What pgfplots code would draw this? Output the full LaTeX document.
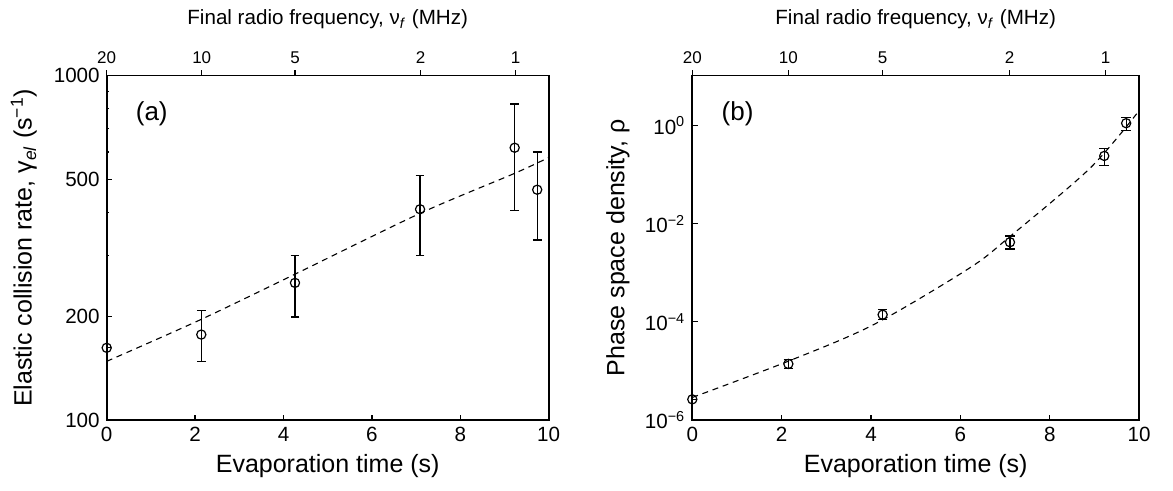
\documentclass[border=0pt]{standalone}
\usepackage{fontspec}
\setmainfont{Liberation Sans}
\usepackage{pgfplots}
\usepackage{pgfplotstable}
\pgfplotsset{compat=1.18}

\pgfplotstableread{
x y ep em
0 162 0 0
2.14 177 31 29.4
4.26 250 51 51
7.09 409 103 108
9.23 617 210 212
9.74 466 134 133
}\dataA

\pgfplotstableread{
x y ep em
0 2.64e-6 0 0
2.15 1.39e-5 0.34e-5 0.28e-5
4.26 1.40e-4 0.41e-4 0.27e-4
7.11 4.2e-3 1.4e-3 1.14e-3
9.22 0.241 0.105 0.088
9.71 1.12 0.36 0.33
}\dataB

\pgfplotsset{
  base/.style={
    scale only axis, height=172.25pt,
    xmin=0, xmax=10,
    axis line style={line width=0.95pt, black},
    tick style={line width=0.6pt, black},
    major tick length=2.6pt, minor tick length=1.4pt,
    ticklabel style={font=\fontsize{10.3}{12}\selectfont, black},
    label style={font=\fontsize{12.5}{15}\selectfont, black},
  },
  main/.style={
    base,
    xtick={0,2,4,6,8,10}, xticklabels={0,2,4,6,8,10},
    tick align=inside, xtick pos=bottom, ytick pos=left,
    xlabel={Evaporation time (s)},
    xlabel style={at={(axis description cs:0.5,-0.153)}, anchor=base},
  },
  top/.style={
    base,
    axis x line*=top, axis y line=none, ymin=0, ymax=1,
    tick align=outside,
    xtick={0,2.15,4.26,7.1,9.25}, xticklabels={20,10,5,2,1},
    ticklabel style={font=\fontsize{8.5}{10}\selectfont},
    xlabel={Final radio frequency, ν\textsubscript{\textit{f}} (MHz)},
    xlabel style={font=\fontsize{10.3}{12}\selectfont, at={(axis description cs:0.5,1.147)}, anchor=base},
  },
  pts/.style={black, line width=0.6pt, mark=o, mark size=2.3pt,
    mark options={fill=white, solid, line width=0.6pt},
    only marks,
    error bars/.cd, y dir=both, y explicit,
    error bar style={line width=0.6pt, black},
    error mark options={rotate=90, mark size=#1, line width=0.6pt, black}},
  pts/.default=2.2pt,
  fit/.style={black, line width=0.55pt, dash pattern=on 3pt off 2.4pt, no marks, smooth},
}

\begin{document}
\begin{tikzpicture}
\path[use as bounding box] (0,0) rectangle (586.5pt,-245.5pt);

% ---------- panel (a)
\begin{axis}[main, at={(53.35pt,-210pt)}, anchor=south west, width=221pt,
  ymode=log, ymin=100, ymax=1000,
  ytick={100,200,500,1000}, yticklabels={100,200,500,1000},
  yminorticks=true, minor ytick={300,400,600,700,800,900},
  ylabel={Elastic collision rate, γ\textsubscript{\textit{el}} (s\textsuperscript{−1})},
  ylabel style={at={(axis description cs:-0.1697,0.5)}, rotate=0, anchor=base},
]
\addplot[fit] coordinates {(0,148) (2.14,196) (4.26,265) (7.09,398) (9.23,520) (10,578)};
\addplot[pts] table[x=x, y=y, y error plus=ep, y error minus=em] {\dataA};
\node[anchor=west, font=\fontsize{13}{15}\selectfont] at (axis description cs:0.05,0.89) {(a)};
\end{axis}
\begin{axis}[top, at={(53.35pt,-210pt)}, anchor=south west, width=221pt]
\end{axis}

% ---------- panel (b)
\begin{axis}[main, at={(346.15pt,-210pt)}, anchor=south west, width=223.4pt,
  ymode=log, ymin=1e-6, ymax=10.5,
  ytick={1e-6,1e-4,1e-2,1},
  yticklabels={10\textsuperscript{−6},10\textsuperscript{−4},10\textsuperscript{−2},10\textsuperscript{0}},
  yminorticks=false,
  ylabel={Phase space density, ρ},
  ylabel style={at={(axis description cs:-0.152,0.5)}, rotate=0, anchor=base},
]
\addplot[fit] coordinates {(0,2.88e-6) (2.15,1.58e-5) (4.05,8.71e-5) (6.21,1.26e-3) (7.11,5.50e-3) (8.9,0.135) (9.98,1.91)};
\addplot[pts=2.4pt] table[x=x, y=y, y error plus=ep, y error minus=em] {\dataB};
\node[anchor=west, font=\fontsize{13}{15}\selectfont] at (axis description cs:0.05,0.89) {(b)};
\end{axis}
\begin{axis}[top, at={(346.15pt,-210pt)}, anchor=south west, width=223.4pt]
\end{axis}
\end{tikzpicture}
\end{document}
